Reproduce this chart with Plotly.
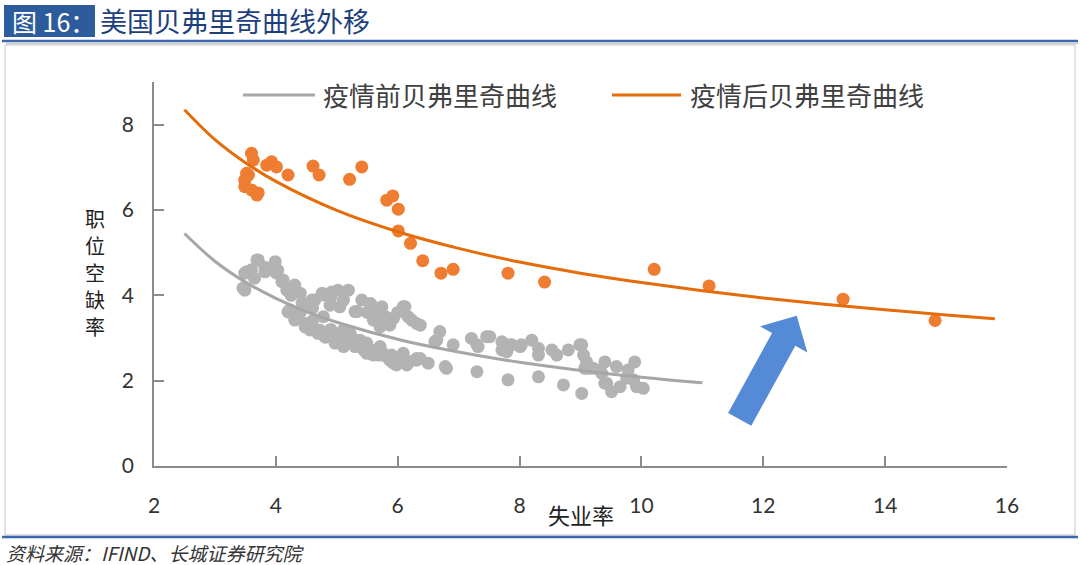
import plotly.graph_objects as go

# ---------------- data ----------------
pre_unemp = [3.52, 3.49, 3.71, 3.82, 3.99, 4.01, 4.10, 4.18, 4.31, 4.40, 4.23, 4.34, 4.48, 4.56,
             4.64, 4.78, 4.92, 5.02, 5.19, 4.89, 5.05, 4.78, 4.72, 4.83, 5.00, 5.11, 5.22, 5.33,
             5.41, 5.55, 5.66, 5.33, 5.60, 5.76, 5.87, 5.71, 6.09, 6.17, 6.31, 5.44, 5.60, 5.76,
             5.87, 5.98, 6.15, 6.31, 6.50, 6.09, 5.49, 6.69, 6.78, 6.64,
             5.11, 5.57, 5.74, 6.12, 5.30, 5.82, 5.93, 6.23, 5.11, 5.16, 5.38, 5.49, 5.71, 5.82,
             5.93, 6.31, 6.91, 6.80, 7.21, 7.30, 7.46, 7.30,
             6.37, 6.61, 6.37, 7.32, 7.51, 7.71, 7.71, 7.87, 8.01, 8.20, 8.31, 8.31, 8.53, 8.61,
             8.80, 9.02, 9.05, 9.10, 9.07, 7.81, 8.31, 8.72, 9.02, 9.40, 9.32, 9.59, 9.40, 9.51,
             9.65, 9.89, 9.78, 9.87, 10.03, 9.21,
             7.84, 7.79, 8.03, 8.99, 9.13, 9.35, 9.43, 9.76, 9.92,
             4.43, 4.20, 4.31, 4.48, 4.59, 4.76, 4.69, 4.81, 4.97, 5.09, 4.28, 4.12, 4.03, 3.69,
             3.82, 3.49, 3.46,
             4.40, 4.60, 4.90, 5.00, 5.20, 5.30, 5.50, 5.60, 5.70, 5.90, 6.00, 6.20, 4.25, 4.50,
             4.60, 4.90, 5.50, 5.80, 6.00, 3.60, 3.90, 3.65]
pre_vacancy = [4.55, 4.12, 4.83, 4.55, 4.79, 4.52, 4.32, 4.12, 4.24, 4.05, 3.66, 3.50, 3.34, 3.19,
               3.89, 4.01, 4.08, 4.12, 4.12, 3.77, 3.73, 3.50, 3.19, 3.03, 2.95, 2.80, 3.11, 2.95,
               3.89, 3.81, 3.66, 3.62, 3.42, 3.42, 3.30, 3.26, 3.73, 3.50, 3.34, 2.72, 2.60, 2.64,
               2.48, 2.37, 2.37, 2.48, 2.41, 2.64, 2.88, 3.15, 2.33, 2.95,
               3.89, 3.77, 3.73, 3.73, 3.62, 3.34, 3.46, 3.42, 3.19, 2.88, 2.95, 2.64, 2.80, 2.56,
               2.41, 2.52, 2.84, 2.29, 2.99, 2.84, 3.03, 2.21,
               3.30, 2.91, 2.52, 2.80, 3.03, 2.91, 2.72, 2.84, 2.80, 2.95, 2.76, 2.60, 2.72, 2.60,
               2.72, 2.84, 2.60, 2.44, 2.29, 2.02, 2.09, 1.90, 1.70, 2.44, 2.25, 2.33, 1.94, 1.74,
               1.86, 2.44, 2.25, 2.02, 1.82, 2.29,
               2.84, 2.68, 2.84, 2.84, 2.29, 2.17, 1.94, 2.06, 1.86,
               3.82, 3.61, 3.42, 3.26, 3.89, 4.05, 3.11, 3.02, 2.88, 3.02, 4.20, 4.36, 4.59, 4.83,
               4.66, 4.52, 4.17,
               3.60, 3.40, 3.20, 3.10, 3.00, 2.80, 2.75, 2.70, 2.60, 2.60, 2.45, 2.45, 4.00, 3.80,
               3.70, 3.95, 3.60, 3.50, 3.60, 4.60, 4.60, 4.40]

post_unemp = [3.60, 3.63, 3.55, 3.52, 3.49, 3.49, 3.60, 3.69, 3.71, 3.85, 3.93, 4.01, 4.20, 4.61,
              4.71, 5.21, 5.41, 5.82, 5.92, 6.01, 6.01, 6.21, 6.41, 6.71, 6.91, 7.81, 8.41, 10.21,
              11.11, 13.31, 14.82]
post_vacancy = [7.33, 7.17, 6.82, 6.86, 6.70, 6.55, 6.47, 6.35, 6.40, 7.05, 7.13, 7.01, 6.82, 7.03,
                6.82, 6.72, 7.01, 6.23, 6.33, 6.02, 5.51, 5.22, 4.81, 4.52, 4.61, 4.52, 4.31, 4.61,
                4.22, 3.91, 3.41]

pre_curve_x = [2.5, 3, 3.5, 4, 4.5, 5, 6, 7, 8, 9, 10, 11]
pre_curve_y = [5.45, 4.80, 4.31, 3.93, 3.62, 3.37, 2.97, 2.67, 2.43, 2.24, 2.08, 1.95]

post_curve_x = [2.5, 3, 3.5, 4, 5, 6, 7, 8, 9, 10, 11, 12, 13, 14, 15, 15.8]
post_curve_y = [8.35, 7.65, 7.11, 6.67, 5.99, 5.49, 5.10, 4.78, 4.52, 4.30, 4.11, 3.94, 3.79,
                3.66, 3.54, 3.45]

x_ticks = [2, 4, 6, 8, 10, 12, 14, 16]
y_ticks = [0, 2, 4, 6, 8]

series_names = ["疫情前贝弗里奇曲线", "疫情后贝弗里奇曲线"]
title_tag = "图 16："
title_text = "美国贝弗里奇曲线外移"
x_title = "失业率"
y_title = "职位空缺率"
source_text = "资料来源：IFIND、长城证券研究院"

# ---------------- styling / layout ----------------
W, H = 1080, 565
L, R, T, B = 154, 73, 82, 99
PW, PH = W - L - R, H - T - B


def PX(x):
    return (x - L) / PW


def PY(y):
    return (H - B - y) / PH


GRAY_DOT = "#B3B3B3"
GRAY_LINE = "#A6A6A6"
ORANGE_DOT = "#EE7D31"
ORANGE_LINE = "#E46C0A"
BLUE = "#2D5C9C"
CJK = "Noto Sans CJK SC"
NUM = "Lato"

fig = go.Figure()
fig.add_trace(go.Scatter(x=pre_unemp, y=pre_vacancy, mode="markers",
                         marker=dict(size=13, color=GRAY_DOT), showlegend=False,
                         cliponaxis=False))
fig.add_trace(go.Scatter(x=post_unemp, y=post_vacancy, mode="markers",
                         marker=dict(size=13, color=ORANGE_DOT), showlegend=False,
                         cliponaxis=False))
fig.add_trace(go.Scatter(x=pre_curve_x, y=pre_curve_y, mode="lines", name=series_names[0],
                         line=dict(color=GRAY_LINE, width=3, shape="spline"), showlegend=False))
fig.add_trace(go.Scatter(x=post_curve_x, y=post_curve_y, mode="lines", name=series_names[1],
                         line=dict(color=ORANGE_LINE, width=3, shape="spline"), showlegend=False))

shapes = []
# title block
shapes.append(dict(type="rect", xref="paper", yref="paper", x0=PX(4), x1=PX(95), y0=PY(37), y1=PY(5),
                   fillcolor=BLUE, line=dict(width=0), layer="below"))
shapes.append(dict(type="line", xref="paper", yref="paper", x0=PX(2), x1=PX(1078), y0=PY(41), y1=PY(41),
                   line=dict(color="#3A67AE", width=2.5)))
shapes.append(dict(type="line", xref="paper", yref="paper", x0=PX(6), x1=PX(1078), y0=PY(43.5), y1=PY(43.5),
                   line=dict(color="#C8C8C8", width=1.5)))
# chart frame
shapes.append(dict(type="rect", xref="paper", yref="paper", x0=PX(5), x1=PX(1075), y0=PY(535), y1=PY(45),
                   line=dict(color="#C6C6C6", width=1), layer="below"))
shapes.append(dict(type="line", xref="paper", yref="paper", x0=PX(2), x1=PX(1078), y0=PY(537), y1=PY(537),
                   line=dict(color="#3A67AE", width=2.5)))
# legend swatches
shapes.append(dict(type="line", xref="paper", yref="paper", x0=PX(243), x1=PX(315), y0=PY(95), y1=PY(95),
                   line=dict(color=GRAY_LINE, width=3)))
shapes.append(dict(type="line", xref="paper", yref="paper", x0=PX(612), x1=PX(681), y0=PY(95), y1=PY(95),
                   line=dict(color=ORANGE_LINE, width=3)))
# blue arrow (pixel geometry)
arrow_px = [(728.1, 412.9), (772.1, 333.0), (760.0, 326.4), (796.7, 315.7),
            (807.4, 352.4), (795.3, 345.7), (751.3, 425.7)]
path = "M " + " L ".join(f"{PX(a):.5f},{PY(b):.5f}" for a, b in arrow_px) + " Z"
shapes.append(dict(type="path", xref="paper", yref="paper", path=path,
                   fillcolor="#558AD6", line=dict(width=0)))

annotations = [
    dict(x=PX(10), y=PY(21), xref="paper", yref="paper", text=title_tag, showarrow=False,
         xanchor="left", yanchor="middle", font=dict(family=CJK, size=25, color="white")),
    dict(x=PX(98), y=PY(21), xref="paper", yref="paper", text=title_text, showarrow=False,
         xanchor="left", yanchor="middle", font=dict(family=CJK, size=27, color="#1E3F7E")),
    dict(x=PX(321), y=PY(95), xref="paper", yref="paper", text=series_names[0], showarrow=False,
         xanchor="left", yanchor="middle", font=dict(family=CJK, size=26, color="#404040")),
    dict(x=PX(688), y=PY(95), xref="paper", yref="paper", text=series_names[1], showarrow=False,
         xanchor="left", yanchor="middle", font=dict(family=CJK, size=26, color="#404040")),
    dict(x=PX(581), y=PY(514), xref="paper", yref="paper", text=x_title, showarrow=False,
         xanchor="center", yanchor="middle", font=dict(family=CJK, size=22, color="#222222")),
    dict(x=PX(4), y=PY(552), xref="paper", yref="paper", text="<i>" + source_text + "</i>",
         showarrow=False, xanchor="left", yanchor="middle",
         font=dict(family=CJK, size=19, color="#333333")),
]
# vertical y-axis title, one character per row
for i, ch in enumerate(y_title):
    annotations.append(dict(x=PX(95), y=PY(218 + i * 27), xref="paper", yref="paper", text=ch,
                            showarrow=False, xanchor="center", yanchor="middle",
                            font=dict(family=CJK, size=20, color="#222222")))

fig.update_layout(
    width=W, height=H,
    margin=dict(l=L, r=R, t=T, b=B, pad=0),
    paper_bgcolor="white", plot_bgcolor="white",
    shapes=shapes, annotations=annotations, showlegend=False,
    xaxis=dict(range=[2, 16], tickvals=x_ticks, showgrid=False, zeroline=False,
               showline=True, linecolor="#8C8C8C", linewidth=1.5,
               ticks="inside", ticklen=10, tickcolor="#8C8C8C", tickwidth=1.5,
               ticklabelstandoff=20,
               tickfont=dict(family=NUM, size=21, color="#333333")),
    yaxis=dict(range=[0, 9], tickvals=y_ticks, showgrid=False, zeroline=False,
               showline=True, linecolor="#8C8C8C", linewidth=1.5,
               ticks="inside", ticklen=10, tickcolor="#8C8C8C", tickwidth=1.5,
               ticklabelstandoff=14,
               tickfont=dict(family=NUM, size=21, color="#333333")),
)

fig.write_html("out.html", config={"displayModeBar": False},
               post_script="document.body.style.margin='0';")
